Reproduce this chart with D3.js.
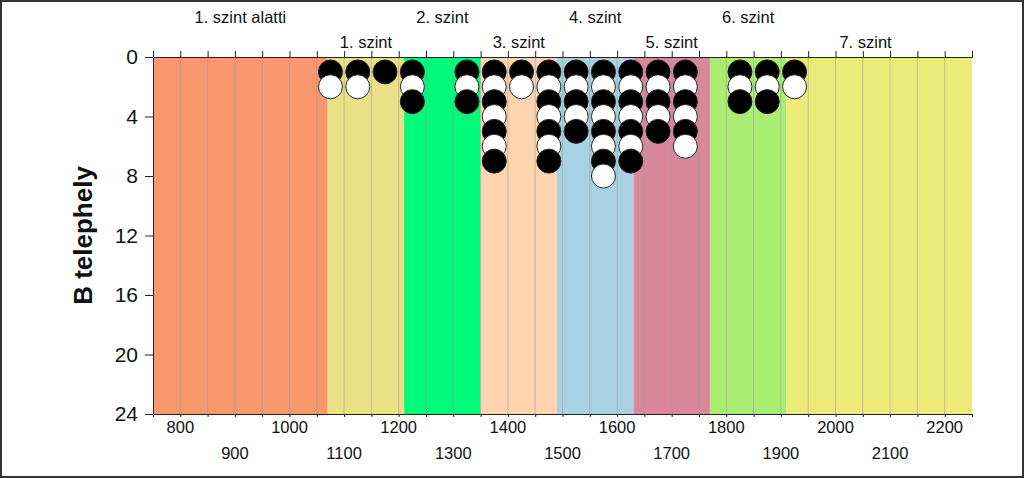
<!DOCTYPE html>
<html>
<head>
<meta charset="utf-8">
<script src="https://cdn.jsdelivr.net/npm/d3@7"></script>
<style>
  html, body { margin: 0; padding: 0; background: #fff; }
  svg { display: block; font-family: Arial, "Liberation Sans", sans-serif; }
</style>
</head>
<body>
<svg id="chart" width="1024" height="478"></svg>
<script>
// ---- data ----
const bandStarts = [750, 1070, 1210, 1350, 1490, 1630, 1770, 1910];
const bandEnds   = [1070, 1210, 1350, 1490, 1630, 1770, 1910, 2250];
const bandColors = ["#FA976E", "#EAE086", "#00FA7A", "#FED4AE", "#A8D2E2", "#D9879C", "#A9EE72", "#ECEB7A"];
const bandLabels = ["1. szint alatti", "1. szint", "2. szint", "3. szint", "4. szint", "5. szint", "6. szint", "7. szint"];
const bandLabelX = [910, 1140, 1280, 1420, 1560, 1700, 1840, 2055];
const columnX      = [1075, 1125, 1175, 1225, 1325, 1375, 1425, 1475, 1525, 1575, 1625, 1675, 1725, 1825, 1875, 1925];
const columnCounts = [2, 2, 1, 3, 3, 7, 2, 7, 5, 8, 7, 5, 6, 3, 3, 2];
const xTickValues = [800, 900, 1000, 1100, 1200, 1300, 1400, 1500, 1600, 1700, 1800, 1900, 2000, 2100, 2200];
const yTickValues = [0, 4, 8, 12, 16, 20, 24];
const yTitle = "B telephely";

// ---- layout ----
const svg = d3.select("#chart");
const W = 1024, H = 478;
const L = 153, R = 972, T = 57, B = 414;
const x = d3.scaleLinear().domain([750, 2250]).range([L, R]);
const y = d3.scaleLinear().domain([0, 24]).range([T, B]);

// bands
svg.append("g").selectAll("rect").data(bandStarts).join("rect")
  .attr("x", (d) => x(d))
  .attr("y", T)
  .attr("width", (d, i) => x(bandEnds[i]) - x(d))
  .attr("height", B - T)
  .attr("fill", (d, i) => bandColors[i]);

// grid lines every 50
const gridVals = d3.range(800, 2250, 50);
svg.append("g").selectAll("line").data(gridVals).join("line")
  .attr("x1", (d) => x(d)).attr("x2", (d) => x(d))
  .attr("y1", T).attr("y2", B)
  .attr("stroke", "#9a9a9a").attr("stroke-opacity", 0.55).attr("stroke-width", 1);

// dots
const dots = [];
columnX.forEach((cx, i) => {
  for (let k = 1; k <= columnCounts[i]; k++) dots.push({ x: cx, y: k, black: k % 2 === 1 });
});
svg.append("g").selectAll("circle").data(dots).join("circle")
  .attr("cx", (d) => x(d.x))
  .attr("cy", (d) => y(d.y))
  .attr("r", 12)
  .attr("fill", (d) => d.black ? "#000" : "#fff")
  .attr("stroke", "#222")
  .attr("stroke-width", 1);

// top axis (ticks every 50, no labels)
svg.append("g").attr("transform", `translate(0,${T})`)
  .call(d3.axisTop(x).tickValues(d3.range(750, 2251, 50)).tickSize(6).tickFormat(""))
  .call((g) => g.select(".domain").attr("stroke", "#222"))
  .call((g) => g.selectAll(".tick line").attr("stroke", "#222"));

// bottom axis
const bottom = svg.append("g").attr("transform", `translate(0,${B})`)
  .call(d3.axisBottom(x).tickValues(d3.range(750, 2251, 50)).tickSize(3).tickFormat(""))
  .call((g) => g.select(".domain").attr("stroke", "#222"))
  .call((g) => g.selectAll(".tick line").attr("stroke", "#222"));

svg.append("g").selectAll("text").data(xTickValues).join("text")
  .attr("x", (d) => x(d))
  .attr("y", (d, i) => i % 2 === 0 ? 433 : 459)
  .attr("text-anchor", "middle")
  .attr("font-size", "16.5px")
  .attr("fill", "#111")
  .text((d) => d);

// left axis
svg.append("g").attr("transform", `translate(${L},0)`)
  .call(d3.axisLeft(y).tickValues(yTickValues).tickSize(8).tickPadding(7))
  .call((g) => g.select(".domain").attr("stroke", "#222"))
  .call((g) => g.selectAll(".tick line").attr("stroke", "#222"))
  .call((g) => g.selectAll(".tick text").attr("font-size", "21px").attr("fill", "#111")
    .attr("font-family", "Arial, 'Liberation Sans', sans-serif"));

// y title
svg.append("text")
  .attr("transform", `translate(92,${(T + B) / 2}) rotate(-90)`)
  .attr("text-anchor", "middle")
  .attr("font-size", "26px")
  .attr("font-weight", "bold")
  .attr("fill", "#111")
  .text(yTitle);

// band labels
svg.append("g").selectAll("text").data(bandLabels).join("text")
  .attr("x", (d, i) => x(bandLabelX[i]))
  .attr("y", (d, i) => i % 2 === 0 ? 23 : 48)
  .attr("text-anchor", "middle")
  .attr("font-size", "16.5px")
  .attr("fill", "#111")
  .text((d) => d);

// outer frame
svg.append("rect").attr("x", 1).attr("y", 1).attr("width", W - 2).attr("height", H - 2)
  .attr("fill", "none").attr("stroke", "#333").attr("stroke-width", 2);
</script>
</body>
</html>
